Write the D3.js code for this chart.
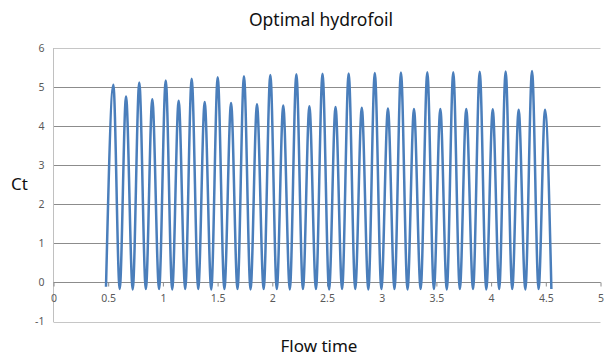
<!DOCTYPE html>
<html>
<head>
<meta charset="utf-8">
<script src="https://cdn.jsdelivr.net/npm/d3@7"></script>
<style>
  body { margin: 0; background: #fff; }
  text { font-family: "Noto Sans", "Open Sans", sans-serif; }
</style>
</head>
<body>
<div id="chart"></div>
<script>
// signal: start, alternating peaks / troughs, end
const startPoint = [0.480, -0.11];
const endPoint = [4.551, -0.17];
const peakTime = [0.547, 0.663, 0.784, 0.903, 1.026, 1.144, 1.263, 1.382, 1.501, 1.623,
  1.741, 1.860, 1.982, 2.100, 2.220, 2.339, 2.459, 2.578, 2.698, 2.818,
  2.937, 3.057, 3.176, 3.295, 3.417, 3.536, 3.654, 3.773, 3.896, 4.015,
  4.133, 4.252, 4.374, 4.493];
const peakCt = [5.06, 4.76, 5.12, 4.69, 5.17, 4.65, 5.21, 4.62, 5.25, 4.59,
  5.28, 4.56, 5.31, 4.53, 5.33, 4.51, 5.34, 4.49, 5.35, 4.47,
  5.36, 4.45, 5.37, 4.44, 5.38, 4.44, 5.38, 4.44, 5.39, 4.43,
  5.40, 4.42, 5.41, 4.42];
const troughTime = [0.605, 0.724, 0.844, 0.965, 1.085, 1.204, 1.323, 1.442, 1.562, 1.682,
  1.801, 1.921, 2.041, 2.160, 2.280, 2.399, 2.519, 2.638, 2.758, 2.878,
  2.997, 3.117, 3.236, 3.356, 3.477, 3.595, 3.714, 3.835, 3.956, 4.074,
  4.193, 4.313, 4.434];
const troughCt = [-0.17, -0.18, -0.17, -0.17, -0.18, -0.17, -0.17, -0.18, -0.17, -0.17,
  -0.18, -0.17, -0.17, -0.18, -0.17, -0.17, -0.18, -0.17, -0.17, -0.18,
  -0.17, -0.17, -0.18, -0.17, -0.17, -0.18, -0.17, -0.17, -0.18, -0.17,
  -0.17, -0.18, -0.17];
const xTicks = [0, 0.5, 1, 1.5, 2, 2.5, 3, 3.5, 4, 4.5, 5];
const yTicks = [-1, 0, 1, 2, 3, 4, 5, 6];

const W = 610, H = 358;
const svg = d3.select("#chart").append("svg")
  .attr("width", W).attr("height", H)
  .attr("xmlns", "http://www.w3.org/2000/svg");

const x = d3.scaleLinear().domain([0, 5]).range([53.5, 600.5]);
const y = d3.scaleLinear().domain([-1, 6]).range([321.5, 48]);

// build point list
let pts = [startPoint];
peakTime.forEach((t, i) => {
  pts.push([t, peakCt[i]]);
  if (i < troughTime.length) pts.push([troughTime[i], troughCt[i]]);
});
pts.push(endPoint);

// gridlines
svg.append("g")
  .selectAll("line")
  .data(yTicks)
  .join("line")
  .attr("x1", x(0)).attr("x2", x(5))
  .attr("y1", d => Math.round(y(d)) + 0.5)
  .attr("y2", d => Math.round(y(d)) + 0.5)
  .attr("stroke", d => (d === 6 || d === -1) ? "#c6c6c6" : "#8c8c8c")
  .attr("stroke-width", 1);

// vertical axis line
svg.append("line")
  .attr("x1", 53.5).attr("x2", 53.5)
  .attr("y1", y(6)).attr("y2", y(-1) + 0.5)
  .attr("stroke", "#c0c0c0");

// y axis labels
const yAxis = d3.axisLeft(y).tickValues(yTicks).tickSize(0).tickPadding(9)
  .tickFormat(d => d);
svg.append("g")
  .attr("transform", "translate(53.5,0)")
  .call(yAxis)
  .call(g => g.select(".domain").remove())
  .selectAll("text")
  .style("font-family", "'Noto Sans', sans-serif")
  .style("font-size", "10.5px")
  .attr("fill", "#595959");

// x axis crossing at 0
const xAxis = d3.axisBottom(x).tickValues(xTicks).tickSize(4).tickPadding(8)
  .tickFormat(d => d);
const gx = svg.append("g")
  .attr("transform", `translate(0,${Math.round(y(0)) + 0.5})`)
  .call(xAxis);
gx.select(".domain").attr("stroke", "#8c8c8c").attr("d", `M${x(0)},0H${x(5)}`);
gx.selectAll(".tick line").attr("stroke", "#8c8c8c");
gx.selectAll("text")
  .style("font-family", "'Noto Sans', sans-serif")
  .style("font-size", "10.5px")
  .attr("fill", "#595959");

// signal
const line = d3.line()
  .x(d => x(d[0]))
  .y(d => y(d[1]))
  .curve(d3.curveMonotoneX);

svg.append("path")
  .datum(pts)
  .attr("d", line)
  .attr("fill", "none")
  .attr("stroke", "#4a7ebb")
  .attr("stroke-width", 2.5)
  .attr("stroke-linejoin", "round");

// titles
svg.append("text")
  .attr("x", 321).attr("y", 26)
  .attr("text-anchor", "middle")
  .style("font-size", "17.5px")
  .attr("fill", "#111")
  .text("Optimal hydrofoil");

svg.append("text")
  .attr("x", 319).attr("y", 352)
  .attr("text-anchor", "middle")
  .style("font-size", "17px")
  .attr("fill", "#111")
  .text("Flow time");

svg.append("text")
  .attr("x", 11).attr("y", 190)
  .style("font-size", "17px")
  .attr("fill", "#111")
  .text("Ct");
</script>
</body>
</html>
